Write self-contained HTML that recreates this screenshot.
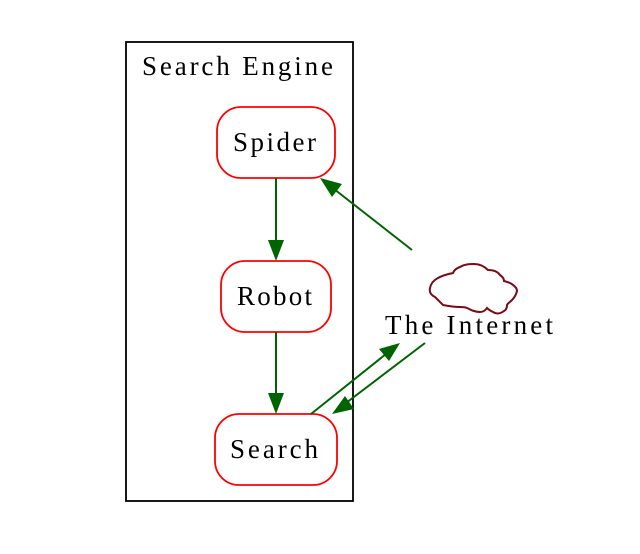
<!DOCTYPE html>
<html>
<head>
<meta charset="utf-8">
<style>
html,body{margin:0;padding:0;background:#fff;width:640px;height:554px;overflow:hidden}
svg{display:block}
text{font-family:"Liberation Serif",serif;font-size:27px;fill:#000}
</style>
</head>
<body>
<svg width="640" height="554" viewBox="0 0 640 554" xmlns="http://www.w3.org/2000/svg">
<rect x="126" y="42" width="227" height="459" fill="none" stroke="#000" stroke-width="1.8"/>
<text x="142" y="75" textLength="191" lengthAdjust="spacing">Search Engine</text>
<rect x="217" y="107" width="118" height="71" rx="24" fill="none" stroke="#f00" stroke-width="1.8"/>
<text x="233" y="151" textLength="83" lengthAdjust="spacing">Spider</text>
<rect x="221" y="261" width="110" height="71" rx="24" fill="none" stroke="#f00" stroke-width="1.8"/>
<text x="237" y="305" textLength="75" lengthAdjust="spacing">Robot</text>
<rect x="215" y="414" width="122" height="71" rx="24" fill="none" stroke="#f00" stroke-width="1.8"/>
<text x="230" y="458" textLength="88" lengthAdjust="spacing">Search</text>
<text x="385" y="334" textLength="168" lengthAdjust="spacing">The Internet</text>
<g stroke="#006400" stroke-width="2" fill="none">
<path d="M276 178V242"/>
<path d="M276 332V396"/>
<path d="M412 250L334 189"/>
<path d="M311 414L386 354"/>
<path d="M425 343L346 403"/>
</g>
<g fill="#006400">
<polygon points="276,261 268,240 284,240"/>
<polygon points="276,414 268,393 284,393"/>
<polygon points="320,178 342,184 332,197"/>
<polygon points="400,343 389,361 379,349"/>
<polygon points="332,414 345,396 354,409"/>
</g>
<path d="M435 297C431 295 429 292 430 288C431 283 434 280 438 278C443 275 449 274 453 273C454 270 457 268 460 267C465 264 470 264 474 264C480 264 485 267 488 270C494 270 498 272 500 275C503 277 504 279 504 281C508 282 511 283 513 285C516 287 517 289 517 291C516 295 514 298 512 300C510 302 508 303 507 305C507 308 506 310 504 311C500 314 496 314 493 312C491 311 489 310 487 308C485 311 483 312 480 312C475 312 471 310 467 308C465 307 462 307 460 307C454 307 448 306 443 305C440 302 437 299 435 297Z" fill="none" stroke="#7a0a14" stroke-width="2"/>
</svg>
</body>
</html>
